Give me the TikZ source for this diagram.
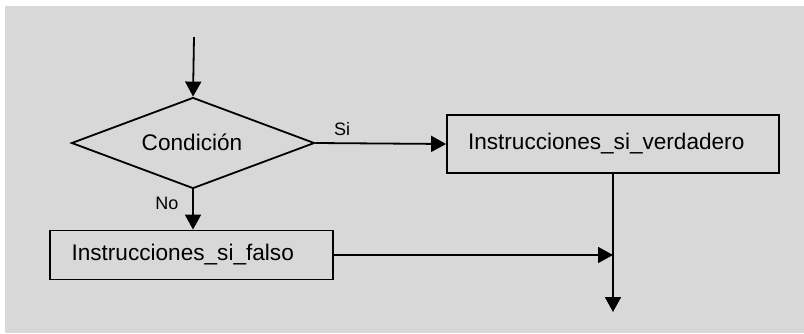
\documentclass[tikz,border=0pt]{standalone}
\usepackage{fontspec}
\setmainfont{Liberation Sans}
\usetikzlibrary{shapes.geometric,arrows.meta}
\definecolor{panel}{RGB}{216,216,216}
\begin{document}
\begin{tikzpicture}[x=1pt,y=-1pt,
  font=\fontsize{22.6}{27}\selectfont,
  line width=1.8pt,
  flow/.style={-{Triangle[length=15pt,width=16pt]}},
  decision/.style={draw,diamond,inner sep=0pt,aspect=2.67,
    minimum width=243pt,minimum height=91pt},
  action/.style={draw,rectangle,align=left},
  lbl/.style={inner sep=0pt}]
  % page and grey panel
  \useasboundingbox (0,0) rectangle (804,333);
  \fill[panel] (5,6) rectangle (804,333);

  % decision and the two branches
  \node[decision] (cond) at (193,143) {};
  \node[lbl] (condtxt) at (192,142) {Condición};
  \node[action,minimum height=58pt,inner xsep=21pt,text width=290pt]
    (yes) at (613,144) {Instrucciones\_si\_verdadero};
  \node[action,minimum height=49pt,inner xsep=21.5pt,text width=240pt]
    (no) at (191.5,255) {Instrucciones\_si\_falso};

  \coordinate (start) at (194,37);
  \coordinate (finish) at (613,312);

  % connectors
  \draw[flow] (start) -- (cond.north);
  \draw[flow] (cond.east) -- (yes.west);
  \draw[flow] (cond.south) -- (cond.south |- no.north);
  \draw[flow] (no.east) -- (yes.south |- no.east);
  \draw[flow] (yes.south) -- (finish);

  % branch labels
  \node[lbl] (silbl) at (342,129) {\fontsize{18}{22}\selectfont Si};
  \node[lbl] (nolbl) at (167,203) {\fontsize{18}{22}\selectfont No};
\end{tikzpicture}
\end{document}
